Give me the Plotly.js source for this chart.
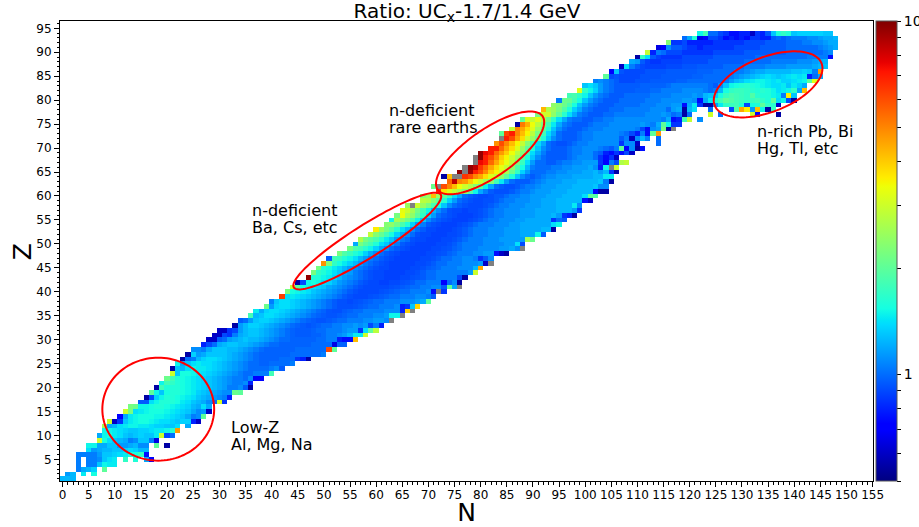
<!DOCTYPE html>
<html><head><meta charset="utf-8">
<script src="https://cdn.plot.ly/plotly-3.0.1.min.js"></script>
<style>html,body{margin:0;padding:0;background:#fff}#c{width:919px;height:527px}</style>
</head><body><div id="c"></div>
<script>
const _=null;
// Ratio by proton number: first entry = first N of the row, then one ratio per successive N
const rows=[
[0,1.25,1.25,1.25],
[1,1.15,1.25,_,1.45,_,1.55],
[3,1.05,1.2,1.25,1.35,_,2],
[3,1.05,_,1.05,1.05,1.3,1.5,1.45,1.45],
[3,1.05,_,1.05,1.05,1.1,1.3,1.4,1.45,_,1.7,_,1.6,_,1.2,.7],
[3,1.05,1.05,1.05,1.05,1.15,1.3,1.3,1.35,1.4,1.45,1.55,1.55,1.7,.75],
[5,1.4,1.15,1.2,1.25,1.25,1.3,1.3,1.35,1.4,1.35,1.25,1.25],
[5,1.5,1.5,1.2,1.2,1.3,1.3,1.15,1.15,1.2,1.25,1.1,1.1,_,2,_,.55],
[7,3,1.55,1.4,1.3,1.25,1.2,1.05,1.1,1.3,1.3,1.05,.65],
[7,1.2,1.5,1.55,1.45,1.4,1.3,1.25,1.3,1.35,1.3,1.3,1.45,3,.9,1],
[8,1.5,1.5,1.45,1.4,1.35,1.3,1.3,1.35,1.35,1.4,1.45,1.45,1.5,1.6,4.7],
[8,2.6,1.2,1.25,1.4,1.45,1.5,1.5,1.45,1.45,1.4,1.35,1.35,1.3,1.3,1.4,_,1.2],
[9,3,.6,.85,1.3,1.45,1.5,1.55,1.55,1.5,1.45,1.4,1.4,1.35,1.3,1.35,1.35,.8,.6],
[11,.7,1.2,1.45,1.5,1.55,1.55,1.55,1.5,1.5,1.45,1.4,1.35,1.3,1.2,1.05,1.1,2],
[12,3,2.2,1.4,1.45,1.5,1.55,1.55,1.55,1.5,1.45,1.4,1.35,1.3,1.2,1.1,1.15,.6],
[13,2.2,2.1,1.5,1.5,1.55,1.6,1.6,1.55,1.5,1.45,1.4,1.35,1.25,1.2,1.4,1.2],
[15,.95,.95,1.4,1.5,1.6,1.6,1.6,1.55,1.45,1.4,1.3,1.25,1.2,1.1,1,3.1,.85],
[16,.55,.9,1.35,1.5,1.6,1.6,1.55,1.5,1.45,1.4,1.3,1.25,1.2,1.15,1.1,1.05,.8],
[17,2,1.5,1.3,1.55,1.6,1.6,1.55,1.5,1.45,1.35,1.3,1.25,1.2,1.15,1.1,1.1,2.1,2],
[18,.55,1.8,1.6,1.6,1.6,1.55,1.5,1.45,1.4,1.35,1.3,1.25,1.2,1.15,1.05,1.05,1.1,.95,.55],
[19,1.5,1.8,1.7,1.6,1.55,1.5,1.45,1.4,1.35,1.3,1.25,1.2,1.15,1.1,1.05,1.05,1.1,.8],
[20,2.1,1.8,1.6,1.55,1.5,1.45,1.4,1.35,1.3,1.25,1.2,1.15,1.1,1.05,1.05,1,1.1,.7,.7],
[21,3,1.3,1.55,1.55,1.5,1.45,1.4,1.35,1.3,1.25,1.2,1.15,1.1,1.05,1,1,1.05,1.05,1.05,1.8],
[21,.55,1.3,1.25,1.4,1.5,1.45,1.45,1.4,1.35,1.3,1.25,1.2,1.15,1.1,1.05,1,1,1,1,1.05,1.1,.95],
[22,1.5,1.2,1.3,1.4,1.45,1.4,1.4,1.35,1.3,1.25,1.2,1.15,1.1,1.05,1,1,.97,.97,1,1,1,1,1.05],
[23,.55,1,1.05,1.25,1.35,1.4,1.4,1.35,1.3,1.25,1.2,1.15,1.1,1.05,1,.97,.97,.97,.97,1,1,1,.85,.8,.55],
[24,.55,1.35,1.15,1.2,1.3,1.3,1.3,1.3,1.25,1.2,1.15,1.1,1.05,1,.97,.97,.97,.97,.97,.97,1,1,1,1,1,1,1.05],
[25,1.1,1.1,1.05,1.2,1.3,1.3,1.3,1.25,1.25,1.2,1.15,1.1,1.05,1,.97,.97,.97,.97,.97,.97,1,1,1,1,1,1,6,2],
[27,.8,.9,1,1.2,1.25,1.3,1.3,1.25,1.25,1.2,1.15,1.1,1.05,1,1,.97,.97,.97,.97,.97,.97,1,1,1,1,.65,.97,.97],
[28,.6,.6,.95,1,1.15,1.2,1.25,1.3,1.25,1.25,1.2,1.15,1.1,1.05,1,1,.97,.97,.97,.97,.97,1,1,1.05,1.05,.8,.75,.75,4.2],
[29,.6,.6,.9,.85,1.05,1.2,1.25,1.3,1.3,1.25,1.2,1.15,1.1,1.05,1,.97,.95,.95,.95,.97,.97,1,1.05,1.05,1.1,1.15,1.25,1.45,1.45,3],
[30,.6,.6,.85,.9,1.15,1.25,1.3,1.3,1.25,1.2,1.15,1.1,1.05,1,.97,.95,.95,.95,.97,1,1,1.05,1.05,1.05,1.1,1.15,1.15,.85,1.4,2,2.8],
[33,.55,1.15,1.25,1.35,1.35,1.3,1.25,1.2,1.15,1.1,1.05,1,.97,.95,.93,.95,.97,1,1,1.05,1.05,1.1,1.1,1.15,1.1,1.15,.9,1.05,.8],
[34,.95,1,1.15,1.3,1.35,1.35,1.3,1.25,1.2,1.15,1.1,1.05,1,.97,.95,.93,.93,.95,.97,1,1,1.05,1.05,1.05,1.1,1.1,1.15,1.15,1.1],
[36,1.8,1.25,1.3,1.4,1.4,1.35,1.3,1.25,1.2,1.15,1.1,1.05,1,.97,.95,.93,.93,.95,.97,1,1,1.05,1.05,1.05,1.1,1.1,1.15,1.5,1.5],
[37,1.45,1.2,1.35,1.4,1.4,1.35,1.3,1.25,1.2,1.15,1.1,1.05,1,.97,.93,.92,.92,.95,.97,1,1,1.05,1.05,1.05,1.05,1.1,1.1,1.1,.8,3.9],
[39,2.1,1.15,1.35,1.4,1.4,1.35,1.3,1.25,1.2,1.15,1.1,1.05,1,.95,.92,.92,.92,.93,.95,.97,1,1,1.05,1.05,1.05,1.1,.8,.85,1.3,3.9],
[40,1.05,1.3,1.4,1.4,1.35,1.3,1.25,1.2,1.15,1.1,1.05,1,.95,.92,.92,.9,.92,.93,.95,.97,1,1,1.05,1.05,1.05,1.1,1.1,1.1,1.15,1.2,2],
[42,6.3,1.4,1.45,1.4,1.35,1.3,1.25,1.2,1.15,1.1,1.05,1,.95,.92,.9,.9,.9,.92,.93,.95,.97,1,1,1.05,1.05,1.05,1.1,1.1,1.05,.95],
[43,2.2,1.55,1.5,1.45,1.4,1.3,1.25,1.2,1.15,1.1,1.05,1,.95,.92,.9,.9,.9,.9,.92,.93,.95,.97,1,1,1.05,1.05,1.05,1.1,.75,_,.85],
[44,3,2,1.55,1.5,1.4,1.35,1.3,1.2,1.15,1.1,1.05,1,.95,.92,.9,.9,.9,.9,.9,.92,.93,.95,.97,1,1,1.05,1.05,1.1,1.1,.95,2,1.2],
[45,.55,.9,1.5,1.55,1.5,1.4,1.35,1.25,1.15,1.1,1.05,1,.95,.92,.9,.9,.88,.88,.9,.9,.92,.93,.95,1,1,1.05,1.05,1.05,.7,1,1.1,.55],
[47,9.5,1.6,1.6,1.5,1.45,1.35,1.25,1.15,1.1,1.05,1,.95,.92,.9,.9,.88,.88,.88,.9,.9,.92,.93,.95,1,1,1.05,1.05,1.05,1.05,.9,.55],
[48,2.2,1.7,1.6,1.5,1.4,1.3,1.2,1.15,1.05,1,.95,.92,.9,.9,.88,.88,.88,.88,.9,.9,.92,.95,1,1,1.05,1.05,1.05,1.05,1.05,1.05,1.15,3],
[49,2.2,1.65,1.55,1.45,1.35,1.25,1.15,1.1,1.05,1,.95,.92,.9,.9,.88,.88,.88,.88,.9,.9,.92,.95,.97,1,1.05,1.05,1.05,1.1,1.1,1.1,1.25,4.5],
[50,4.8,2.3,1.7,1.55,1.45,1.35,1.25,1.15,1.05,1,.95,.92,.9,.88,.88,.88,.88,.88,.9,.9,.92,.95,1,1,1.05,1.05,1.05,1.1,1.1,1.1,1.15,.6],
[51,.95,1.8,1.75,1.6,1.5,1.4,1.25,1.15,1.05,1,.95,.92,.9,.88,.88,.88,.88,.88,.9,.9,.92,.95,1,1,1.05,1.05,1.1,1.1,1.05,.85,.95,1.1],
[53,2.2,1.9,1.75,1.6,1.5,1.35,1.2,1.1,1,.95,.92,.9,.88,.88,.88,.88,.88,.9,.9,.92,.93,.97,1,1.05,1.05,1.05,1.1,1.1,1.15,1.15,.75,.6,.55],
[55,2.2,1.9,1.8,1.65,1.5,1.35,1.2,1.1,1,.95,.92,.9,.88,.88,.88,.88,.9,.9,.92,.93,.97,1,1.05,1.05,1.05,1.1,1.1,1.1,1.1,1.15,1.15,1.2,1.1],
[56,1.2,2.2,1.95,1.8,1.6,1.4,1.3,1.15,1.05,.95,.92,.9,.88,.88,.88,.88,.9,.9,.92,.95,1,1.05,1.05,1.05,1.05,1.1,1.1,1.1,1.1,1.15,1.15,1.4,.9],
[57,2.7,2.2,2,1.85,1.65,1.45,1.3,1.15,1.05,1,.92,.9,.9,.88,.88,.88,.9,.9,.92,.95,1,1.05,1.05,1.05,1.1,1.1,1.1,1.15,1.15,1.15,1.15,1.15,2.6,2.1],
[59,2.9,2.3,2.05,1.8,1.55,1.35,1.2,1.1,1,.92,.9,.9,.88,.88,.88,.9,.9,.92,.95,1,1.05,1.05,1.05,1.1,1.1,1.1,1.15,1.15,1.15,1.2,1.2,1.2,1.5,.95],
[60,3.6,2.5,2.2,1.95,1.65,1.4,1.25,1.1,1,.95,.9,.9,.88,.88,.88,.9,.92,.95,1,1.05,1.05,1.05,1.1,1.1,1.1,1.15,1.15,1.15,1.2,1.2,1.2,1.2,1.25,1.25,.55],
[62,2.3,2.4,2.15,1.85,1.6,1.35,1.15,1.05,.95,.92,.9,.88,.88,.88,.9,.92,.95,1,1.05,1.05,1.05,1.1,1.1,1.1,1.15,1.15,1.2,1.2,1.2,1.2,1.2,1.2,1.4,1.5],
[63,1.5,2.6,2.4,2.15,1.85,1.5,1.3,1.1,1,.95,.92,.9,.88,.88,.88,.9,.92,.95,1,1.05,1.05,1.1,1.1,1.1,1.15,1.15,1.2,1.2,1.2,1.2,1.2,.85,1,.95],
[64,2.2,3.4,2.7,2.4,2,1.7,1.35,1.15,1,.95,.92,.9,.88,.88,.88,.9,.92,.95,1,1.05,1.05,1.1,1.1,1.1,1.15,1.15,1.15,1.2,1.2,1.2,1.25,1.15,.85,.8,.55],
[65,3.3,3,2.6,2.15,1.8,1.5,1.25,1.1,1,.92,.9,.9,.88,.9,.9,.92,.95,1,1.05,1.05,1.1,1.1,1.1,1.15,1.15,1.15,1.2,1.2,1.2,1.2,1.25,1.25,1.25,1.15,.85],
[66,2.5,_,3,2.5,2.2,1.85,1.55,1.3,1.1,1,.95,.92,.9,.9,.9,.92,.95,1,1.05,1.05,1.1,1.1,1.1,1.15,1.15,1.15,1.2,1.2,1.2,1.25,1.25,1.25,1.45,1.1],
[69,2.8,2.7,2.3,2,1.65,1.35,1.15,1,.95,.92,.9,.9,.92,.92,.95,1,1.05,1.05,1.1,1.1,1.1,1.15,1.15,1.2,1.2,1.2,1.25,1.25,1.25,1.25,1.25,.75,.6],
[69,2.3,2.5,4.2,2.5,2,1.7,1.4,1.2,1,.95,.92,.9,.9,.92,.95,.95,1,1.05,1.05,1.1,1.1,1.15,1.15,1.15,1.2,1.2,1.2,1.25,1.25,1.25,1.25,1.4,2,1.9],
[72,6.5,3.7,3.2,2.9,2.6,2.3,1.9,1.5,1.2,1.05,.95,.92,.92,.92,.95,1,1.05,1.05,1.1,1.15,1.15,1.15,1.2,1.2,1.2,1.25,1.25,1.25,1.25,1.25,.7,.55,.55],
[71,2.1,_,6,5,4.2,3.4,3,2.7,2.3,1.95,1.5,1.2,1,.95,.92,.92,.95,1,1.05,1.05,1.1,1.15,1.15,1.15,1.2,1.2,1.2,1.25,1.25,1.25,1.25,1.3,1.1,1.1],
[74,5.5,8.5,5,4.7,4,3.4,3,2.6,2.3,1.8,1.45,1.15,1,.95,.95,.95,1,1.05,1.1,1.15,1.15,1.15,1.2,1.2,1.2,1.25,1.25,1.25,1.25,1.3,1.05,.55],
[73,.55,4.2,_,_,6.5,6,5,4.5,3.8,3.2,2.8,2.4,2,1.6,1.3,1.1,1,.95,1,1.05,1.1,1.1,1.15,1.15,1.15,1.2,1.2,1.2,1.2,1.25,1.25,1.45,1.45],
[76,9.5,_,9,7,6,5,4,3.5,3,2.6,2.1,1.7,1.35,1.15,1,1,1,1.05,1.05,1.1,1.1,1.15,1.15,1.15,1.2,1.2,1.25,1.15,1.25,.85,.55],
[78,9.5,8.5,6.5,5.5,4.5,3.8,3.3,2.9,2.4,1.9,1.55,1.25,1.05,1,1,1,1.05,1.05,1.1,1.1,1.15,1.15,1.15,1.2,1.1,.8,1.5,_,3],
[80,7.5,7,5.5,4.5,3.8,3.3,2.9,2.2,1.75,1.4,1.15,1,1,.95,.95,1,1.05,1.05,1.1,1.1,1.15,1.15,1.15,.85,.7,1.05,.9,2.7,2.9],
[80,9.5,7,6,5,4,3.5,3,2.5,2,1.6,1.3,1.1,1,.95,.95,.95,.95,1,1.05,1.1,1.1,1.1,1,.85,.75,.85,.6],
[80,9.5,7.5,7,5.5,4.7,4,3.4,2.8,2.3,1.8,1.4,1.2,1.05,.95,.95,.95,.95,1,1.05,1.05,1.1,1.1,1,.95,.8,.75,.85,.75,.9,.6],
[82,7,7,5.5,4.5,3.8,3.2,2.5,2,1.6,1.3,1.1,1,.95,.95,.95,1,1.05,1.05,1.1,1.1,1.1,1.05,1,.95,1.05,2,.7,1.1,.55,.75],
[83,4.8,6,5,4.2,3.5,2.9,2.3,1.8,1.4,1.2,1,.95,.92,.92,.95,1,1.05,1.05,1.1,1.1,1.1,1.1,1.1,1.1,.85,1.1,1.1,.6,_,_,_,1],
[85,7,6,4.6,3.8,3,2.5,2,1.6,1.3,1.1,1,.95,.95,.95,1,1.05,1.05,1.1,1.1,1.1,1.1,1.1,.95,1.05,.6,1.1,1.25,1.05,_,1],
[84,2,6.2,7,5,4.2,3.5,2.8,2.2,1.8,1.4,1.2,1,.95,.95,.95,1,1.05,1.05,1.1,1.1,1.1,1.1,1.1,1.05,1,.9,.8,1.05,.75,2,4.7],
[86,2.9,5,4.5,3.8,3.2,2.5,2,1.6,1.3,1.1,1,.95,.95,.95,1,1.05,1.05,1.05,1.1,1.1,1.1,1.1,1.1,1.1,1.05,.9,.75,1.1,1.15,2.2,.55],
[87,.55,5.2,4.4,3.4,2.8,2.2,1.8,1.45,1.2,1.05,1,.95,.95,.95,1,1.05,1.05,1.05,1.1,1.1,1.1,1.1,1.1,1.1,1.15,1.1,1.05,1.2,2,1.5,.85,.85],
[88,2,3.2,2.9,3.3,2.6,2.1,1.7,1.4,1.2,1.05,1,1,.95,.95,1,1,1.05,1.05,1.1,1.1,1.1,1.1,1.1,1.1,1.1,1.1,1.1,1.05,1.2,.75,.8,1.8,2.9,_,1.1],
[91,2.2,3,3,2.4,2,1.65,1.4,1.2,1.05,1,.95,.95,.95,1,1,1.05,1.05,1.05,1.05,1.05,1.05,1.1,1.1,1.1,1.15,1.1,1,1.05,.55,1,_,_,_,3,_,1,_,_,_,_,_,3,.7,_,_,_,.55],
[92,4.3,2.7,2.5,2.2,1.9,1.6,1.35,1.2,1.05,1,.95,.95,.95,1,1,1,1.05,1.05,1.05,1.05,1.05,1.1,1.1,1.1,1,1.15,1.2,.55,1.25,1.4,_,_,1,_,_,_,.9,1.9,4.5,3.6,1.15,4.2,1.5,.55,1.7],
[94,2.4,2.3,2.1,1.85,1.55,1.3,1.15,1.05,1,.95,.95,.95,1,1,1,1,1,1.05,1.05,1.05,1.1,1.1,1.1,1.15,1.15,.75,1.2,1.45,.85,.55,.55,1.15,1.45,1.7,1.75,1.8,1.6,.9,1.55,1.6,2,1.7,1.65,.6],
[95,1.05,2.1,2.05,1.8,1.55,1.3,1.15,1.05,1,.95,.95,.95,1,1,1,1,1,1.05,1.05,1.05,1.1,1.1,1.1,1.1,1.15,1.15,1.1,.75,1.2,1.45,1.6,1.8,2,1.9,1.8,1.75,1.7,1.75,1.8,1.7,1.6,2,1.4,1.5,.9,.55],
[97,1.8,1.85,1.7,1.5,1.3,1.15,1.05,1,.95,.95,.95,1,1,1,1,1,1.05,1.05,1.05,1.05,1.1,1.1,1.1,1.1,1.15,1.1,1.25,1.3,1.35,1.55,1.75,1.85,1.8,1.75,1.7,1.9,1.65,1.6,1.6,1.5,1.45,1.05,3.6,1.3],
[99,3.2,1.7,1.5,1.35,1.15,1.05,1,.95,.95,.95,.95,.97,.97,.97,1,1,1.05,1.05,1.05,1.05,1.1,1.1,1.1,1.1,1.05,1,1.05,1.25,1.55,1.7,1.75,1.75,1.7,1.65,1.6,1.65,1.6,1.5,1.4,1.45,1.5,1.7,1.2,4.2],
[100,1.3,1.4,1.3,1.15,1.05,1,.95,.95,.95,.95,.95,.97,.97,.97,.97,.97,1,1.05,1.05,1.05,1.05,1.05,1.05,1.05,1,.95,1.1,1.3,1.5,1.55,1.6,1.65,1.6,1.55,1.5,1.45,1.4,1.4,1.45,1.3,1.45,1.35,1.2],
[102,1.05,1.1,1.05,1,.95,.9,.9,.9,.93,.93,.93,.95,.95,.95,.95,.95,.97,.97,1,1,1,1,1,1,1,1.05,1.15,1.25,1.3,1.4,1.45,1.5,1.5,1.45,1.4,1.45,1.35,1.35,1.4,1.45,1.5,2,3.2],
[104,2,.9,.93,.9,.9,.9,.9,.93,.93,.93,.93,.95,.95,.95,.95,.95,.95,.97,.97,1,1,1,1,1,1.05,1.1,1.15,1.2,1.25,1.3,1.35,1.4,1.35,1.3,1.35,1.4,1.45,1.4,1.45,.8,1,1.2],
[105,.7,1.3,.93,.9,.9,.9,.9,.93,.93,.93,.93,.95,.95,.95,.95,.95,.95,.97,.97,.97,1,1,1,1,1.05,1.05,1.1,1.15,1.2,1.2,1.25,1.25,1.25,1.25,1.25,1.3,1.3,1.35,1.3,1.05,4.7],
[107,.6,1.4,1.05,.95,.9,.88,.88,.88,.88,.9,.9,.9,.93,.93,.93,.95,.95,.95,.95,.95,1,1,1,1,1.05,1.05,1.05,1.05,1.1,1.1,1.1,1.1,1.15,1.15,1.15,1.15,1.15,1.2,1.25,1.3],
[109,1.2,1.15,.95,.88,.85,.85,.88,.88,.88,.88,.9,.9,.9,.9,.9,.95,.95,.95,.95,.95,.95,.95,1,1,1,1,1,1.05,1.05,1.05,1.05,1.05,1.1,1.1,1.1,1.15,1.2,1.25],
[110,.55,1.7,1.4,.95,.88,.85,.85,.85,.85,.9,.9,.9,.9,.9,.9,.95,.95,.95,.95,.95,.95,.95,.95,1,1,1,1,1,1,1,1,1,1,1.05,1.05,1.05,1.05,.75],
[112,2.9,.8,1.05,1,.9,.9,.9,.85,.85,.85,.85,.85,.85,.9,.9,.9,.9,.9,.9,.95,.95,.95,.95,.95,.95,.95,.95,1,1,1,1,1,1,1,1.05,1.1],
[114,.65,.7,1.1,.95,.95,.9,.85,.85,.8,.85,.85,.85,.85,.85,.85,.9,.9,.9,.9,.9,.95,.95,.95,.95,.95,1,1,1,1,1,1,1.05,1.1,1.15,1.2],
[116,2.3,.85,.85,.9,.8,.8,.8,.8,.8,.85,.85,.85,.85,.85,.85,.9,.9,.9,.9,.95,.95,.95,.95,1,1,1,1.05,1.05,1.1,1.1,1.15,1.2,1.2],
[119,1,1.2,1.6,.65,.7,.9,.9,.85,.75,.8,.75,.8,.75,.85,.85,.8,.8,.95,1,.95,1,1.05,1.05,1.05,1.1,1.1,1.15,1.2,1.2,1.25],
[122,1.5,1.8,1,1,.9,.85,.75,.75,.8,.8,.6,.85,.8,.95,1.3,1.6,1.7,1.6,1.3,1.35,1.35,1.35,1.35,1.35,1.3,1.3]
];
const grayN=[63,65,67,72,76,88,82,67,72,75,76,77,77,79,79,84,105,117];
const grayZ=[34,35,36,40,41,49,46,58,62,64,64,65,66,67,68,72,66,74];
const labelText=["n-deficient","rare earths","n-deficient","Ba, Cs, etc","n-rich Pb, Bi","Hg, Tl, etc","Low-Z","Al, Mg, Na"];
const labelN=[62.7,62.7,36.5,36.5,133.1,133.1,32.4,32.4];
const labelZ=[78.1,74.5,57.2,53.6,73.7,70.1,11.9,8.3];
// ellipse centre N, centre Z, half width, half height, phase (deg)
const ellCN=[18.3,58.3,81.8,135];
const ellCZ=[15.5,50.6,69,83.3];
const ellAN=[10.7,14.15,10.35,10.4];
const ellAZ=[10.75,10.1,8.65,6.9];
const ellPhi=[90,23,42,61];
const cbTicks=[.5,.6,.7,.8,.9,1,2,3,4,5,6,7,8,9,10];

const xs=[],ys=[];for(let i=0;i<156;i++)xs.push(i);for(let j=1;j<=96;j++)ys.push(j);
const zm=ys.map(()=>xs.map(()=>null)),zg=ys.map(()=>xs.map(()=>null));
rows.forEach((r,i)=>{for(let k=1;k<r.length;k++){if(r[k]!==null)zm[i][r[0]+k-1]=Math.log10(r[k]);}});
grayN.forEach((n,k)=>{zg[grayZ[k]-1][n]=1;zm[grayZ[k]-1][n]=null;});
const c=(f,r,g,b)=>[f,`rgb(${r},${g},${b})`];
const jet=[c(0,0,0,128),c(.11,0,0,255),c(.125,0,0,255),c(.34,0,219,255),c(.35,0,230,247),c(.375,21,255,226),c(.64,238,255,8),c(.65,247,246,0),c(.66,255,236,0),c(.89,255,19,0),c(.91,232,0,0),c(1,128,0,0)];
const shapes=ellCN.map((cx,i)=>{const p=[];const phi=ellPhi[i]*Math.PI/180;
 for(let t=0;t<=120;t++){const a=t/120*2*Math.PI;p.push((t?'L':'M')+(cx+ellAN[i]*Math.cos(a)).toFixed(3)+','+(ellCZ[i]+ellAZ[i]*Math.cos(a-phi)).toFixed(3));}
 return {type:'path',xref:'x',yref:'y',path:p.join(' ')+' Z',line:{color:'#ff0000',width:2},layer:'above'};});
const font='"DejaVu Sans", sans-serif';
const ann=labelText.map((t,i)=>({text:t,x:labelN[i],y:labelZ[i],xref:'x',yref:'y',xanchor:'left',yanchor:'middle',showarrow:false,xshift:-3,yshift:-1,font:{family:font,size:16,color:'#000'}}));
ann.push({text:'Z',xref:'paper',yref:'paper',x:-.0467,y:.4975,xanchor:'center',yanchor:'middle',textangle:-90,showarrow:false,font:{family:font,size:25,color:'#000'}});
const axis={showgrid:false,zeroline:false,showline:true,linecolor:'#000',linewidth:1,mirror:true,ticks:'outside',ticklen:5,tickcolor:'#000',tickfont:{family:font,size:12,color:'#000'},dtick:5,tick0:0,minor:{ticks:'outside',ticklen:2.5,dtick:1,tick0:0,tickcolor:'#000',showgrid:false}};
Plotly.newPlot('c',[
 {type:'heatmap',x:xs,y:ys,z:zm,zmin:Math.log10(.5),zmax:1,colorscale:jet,hoverongaps:false,
  colorbar:{x:1.0037,xanchor:'left',y:0,yanchor:'bottom',len:1,lenmode:'fraction',thickness:21,thicknessmode:'pixels',xpad:0,ypad:0,outlinecolor:'#555',outlinewidth:1,
   tickmode:'array',tickvals:cbTicks.map(Math.log10),ticktext:cbTicks.map(v=>(v===1||v===10)?String(v):''),ticks:'outside',ticklen:4,tickcolor:'#000',tickfont:{family:font,size:14,color:'#000'}}},
 {type:'heatmap',x:xs,y:ys,z:zg,zmin:0,zmax:1,colorscale:[[0,'#808080'],[1,'#808080']],showscale:false,hoverongaps:false}
],{
 width:919,height:527,margin:{l:60,r:46,t:21,b:46,autoexpand:false},paper_bgcolor:'#fff',plot_bgcolor:'#fff',showlegend:false,
 title:{text:'Ratio: UC<sub>x</sub>-1.7/1.4 GeV',font:{family:font,size:20,color:'#000'},x:467/919,xanchor:'center',y:.979,yanchor:'middle'},
 xaxis:{...axis,automargin:false,range:[-.5,155.07],ticklabelstandoff:-2,title:{text:'N',font:{family:font,size:25,color:'#000'},standoff:6}},
 yaxis:{...axis,automargin:false,range:[.5,96.53]},
 shapes,annotations:ann
},{displayModeBar:false,staticPlot:true});
</script></body></html>
